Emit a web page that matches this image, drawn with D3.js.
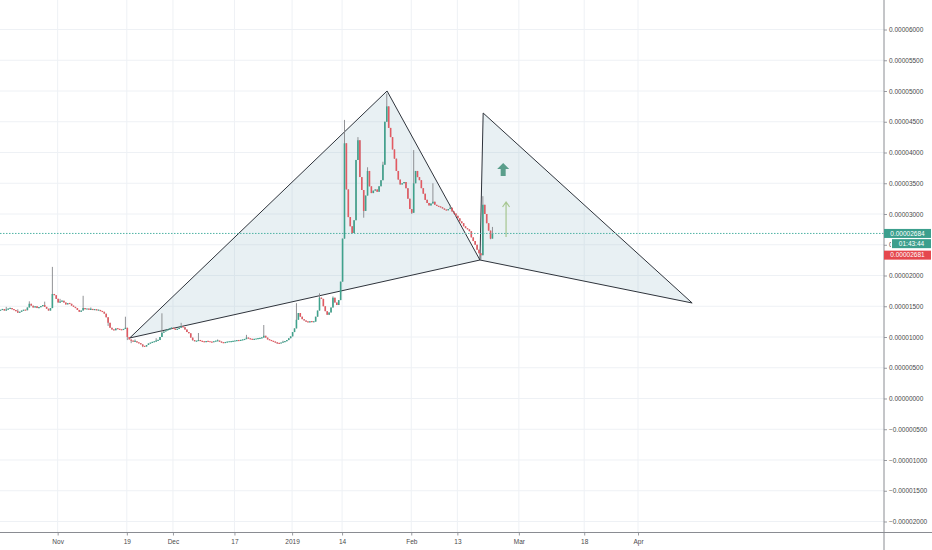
<!DOCTYPE html>
<html><head><meta charset="utf-8">
<script src="https://cdn.jsdelivr.net/npm/d3@7"></script>
<style>
body{margin:0;background:#fff;}
svg{display:block;font-family:"Liberation Sans",Arial,sans-serif;}
</style>
</head><body>
<svg id="c" width="932" height="550"></svg>
<script>
// ---- data (prices in units of 1e-8) ----
const UNIT = 1e-8;
const candleStart = Date.UTC(2018, 9, 17);   // first 12h candle
const candleHours = 12;
const firstOpen = 1430;
const closes = [
1440,1455,1430,1445,1460,1470,1450,1440,1420,1395,
1410,1430,1440,1435,1480,1540,1510,1480,1500,1470,
1485,1500,1520,1490,1460,1430,1470,1700,1680,1620,
1560,1575,1590,1560,1530,1550,1540,1510,1490,1470,
1440,1410,1430,1470,1450,1460,1445,1455,1440,1450,
1435,1440,1420,1410,1380,1320,1230,1150,1120,1110,
1140,1130,1120,1115,1130,1150,1000,960,940,925,
930,910,900,880,850,845,870,895,905,920,
925,940,950,1000,1070,1090,1110,1120,1140,1150,
1130,1120,1130,1150,1170,1160,1120,1080,1060,990,
950,930,935,950,935,925,920,930,925,920,
915,930,935,940,925,910,905,915,920,925,
925,930,940,945,940,950,955,965,990,975,
965,960,965,970,975,980,990,1020,990,960,
950,935,925,910,900,895,910,920,930,950,
980,1010,1080,1140,1280,1390,1330,1290,1270,1250,
1240,1255,1245,1250,1330,1430,1640,1620,1500,1420,
1360,1400,1480,1640,1560,1520,1600,1900,2600,4150,
3400,2950,2800,2690,2900,3880,4200,3600,3390,3050,
3300,3700,3450,3340,3380,3400,3360,3450,3550,3800,
4500,4750,4400,4250,4050,3900,3700,3560,3480,3500,
3520,3420,3250,3080,3020,3500,3700,3600,3550,3420,
3330,3230,3180,3140,3170,3200,3150,3130,3120,3110,
3090,3070,3060,3080,3100,3040,3010,2970,2930,2880,
2850,2800,2770,2750,2720,2620,2560,2500,2420,2360,
2330,3150,3000,2850,2730,2600,2684
];
// [candle index, high]
const wickHighs = [[3,1490],[9,1450],[15,1580],[23,1575],[27,2140],[31,1620],[43,1670],[47,1480],
[65,1330],[70,960],[81,980],[84,1385],[94,1230],[103,1065],[113,960],[128,1035],[137,1195],
[147,940],[154,1550],[166,1710],[173,1660],[179,4530],[186,4250],[191,3760],[199,3850],
[201,4960],[208,3560],[215,4040],[219,3480],[225,3500],[234,3150],[251,3290],[256,2790]];
// [candle index, low]
const wickLows = [[56,1180],[66,950],[68,900],[74,835],[100,940],[144,890],[171,1390],
[183,2680],[189,2940],[214,3000],[250,2255],[255,2590]];

const dateTicks = ["2018-11-01","2018-11-19","2018-12-01","2018-12-17","2019-01-01","2019-01-14",
                   "2019-02-01","2019-02-13","2019-03-01","2019-03-18","2019-04-01"];
const dateLabels = ["Nov","19","Dec","17","2019","14","Feb","13","Mar","18","Apr"];
const priceTicks = [-2000,-1500,-1000,-500,0,500,1000,1500,2000,2500,3000,3500,4000,4500,5000,5500,6000];

const patternDates  = ["2018-11-19T18:00Z","2019-01-25T17:00Z","2019-02-18T21:00Z","2019-02-19T17:00Z","2019-04-15T02:00Z"];
const patternPrices = [984, 5000, 2252, 4642, 1553];   // X A B C D

const bigArrow = {date:"2019-02-24T22:00Z", price:3716};
const thinArrow = {date:"2019-02-25T16:00Z", from:2626, to:3195};

const lastPrice = 2684, bidPrice = 2681, countdown = "01:43:44";

// ---- layout ----
const W = 932, H = 550, plotR = 884, plotB = 532.5;
const svg = d3.select("#c");
const x = d3.scaleUtc().domain([new Date(Date.UTC(2018,9,17)), new Date(Date.UTC(2019,5,4))]).range([0, plotR]);
const y = d3.scaleLinear().domain([-2179, 6480]).range([plotB, 0]);
const fmt = v => (v < 0 ? "\u2212" : "") + (Math.abs(v) * UNIT).toFixed(8);

svg.append("rect").attr("width", W).attr("height", H).attr("fill", "#fff");
svg.append("defs").append("clipPath").attr("id", "hidebadge")
  .append("rect").attr("x", -10).attr("y", -10).attr("width", 17).attr("height", 20);

// grid
const g = svg.append("g");
g.selectAll(".hg").data(priceTicks).join("line")
  .attr("x1", 0).attr("x2", plotR).attr("y1", d => y(d)).attr("y2", d => y(d))
  .attr("stroke", "#eef1f5").attr("stroke-width", 1);
g.selectAll(".vg").data(dateTicks).join("line")
  .attr("x1", d => x(new Date(d))).attr("x2", d => x(new Date(d)))
  .attr("y1", 0).attr("y2", plotB)
  .attr("stroke", "#eef1f5").attr("stroke-width", 1);

// pattern
const P = patternDates.map((d, i) => [x(new Date(d)), y(patternPrices[i])]);
const tri = [[P[0], P[1], P[2]], [P[2], P[3], P[4]]];
svg.append("g").selectAll("polygon").data(tri).join("polygon")
  .attr("points", d => d.map(p => p.join(",")).join(" "))
  .attr("fill", "rgba(150,185,200,0.22)")
  .attr("stroke", "#2e333b").attr("stroke-width", 1).attr("stroke-linejoin", "miter");

// candles
const hiMap = new Map(wickHighs), loMap = new Map(wickLows);
const candles = closes.map((c, i) => {
  const o = i ? closes[i - 1] : firstOpen;
  const h = Math.max(o, c, hiMap.get(i) ?? -Infinity);
  const l = Math.min(o, c, loMap.get(i) ?? Infinity);
  return {t: new Date(candleStart + i * candleHours * 3600e3), o, c, h, l};
});
const cg = svg.append("g");
cg.selectAll(".w").data(candles).join("line")
  .attr("x1", d => x(d.t) + 0.5).attr("x2", d => x(d.t) + 0.5)
  .attr("y1", d => y(d.h)).attr("y2", d => y(d.l))
  .attr("stroke", "#85868a").attr("stroke-width", 0.9);
cg.selectAll(".b").data(candles).join("line")
  .attr("x1", d => x(d.t) + 0.5).attr("x2", d => x(d.t) + 0.5)
  .attr("y1", d => { const a = y(d.o), b = y(d.c); return Math.abs(a - b) < 1.2 ? (a + b) / 2 - 0.6 : a; })
  .attr("y2", d => { const a = y(d.o), b = y(d.c); return Math.abs(a - b) < 1.2 ? (a + b) / 2 + 0.6 : b; })
  .attr("stroke", d => d.c >= d.o ? "#3fa28c" : "#e35a62").attr("stroke-width", 1.6);

// arrows
{
  const ax = x(new Date(bigArrow.date)), ay = y(bigArrow.price);
  svg.append("path")
    .attr("d", `M${ax},${ay-7} L${ax+6},${ay-1} L${ax+2.5},${ay-1} L${ax+2.5},${ay+6} L${ax-2.5},${ay+6} L${ax-2.5},${ay-1} L${ax-6},${ay-1} Z`)
    .attr("fill", "#5a9e8b");
  const tx = x(new Date(thinArrow.date)), y0 = y(thinArrow.from), y1 = y(thinArrow.to);
  svg.append("path")
    .attr("d", `M${tx},${y0} L${tx},${y1} M${tx-3.5},${y1+5} L${tx},${y1} L${tx+3.5},${y1+5}`)
    .attr("fill", "none").attr("stroke", "#a6c690").attr("stroke-width", 1.2);
}

// last-price dotted line
svg.append("line").attr("x1", 0).attr("x2", plotR).attr("y1", y(lastPrice)).attr("y2", y(lastPrice))
  .attr("stroke", "#4fb3a4").attr("stroke-width", 1).attr("stroke-dasharray", "1.5,1.5");

// axes
const xAxis = d3.axisBottom(x).tickValues(dateTicks.map(d => new Date(d)))
  .tickFormat((d, i) => dateLabels[i]).tickSize(3).tickPadding(4);
const xg = svg.append("g").attr("transform", `translate(0,${plotB})`).call(xAxis);
xg.select(".domain").remove();
xg.selectAll("line").attr("stroke", "#9a9ca2");
xg.selectAll("text").attr("fill", "#4a4a4a").attr("font-size", 6.5);
svg.append("line").attr("x1", 0).attr("x2", W).attr("y1", plotB).attr("y2", plotB)
  .attr("stroke", "#8a8c92").attr("stroke-width", 1);

const yAxis = d3.axisRight(y).tickValues(priceTicks).tickFormat(fmt).tickSize(3).tickPadding(2);
const yg = svg.append("g").attr("transform", `translate(${plotR},0)`).call(yAxis);
yg.select(".domain").remove();
yg.selectAll("line").attr("stroke", "#9a9ca2");
yg.selectAll("text").attr("fill", "#4a4a4a").attr("font-size", 6.5);
// the label hidden under the countdown badge only shows its first character
yg.selectAll(".tick").filter(d => d === 2500).select("text").attr("clip-path", "url(#hidebadge)");
svg.append("line").attr("x1", plotR).attr("x2", plotR).attr("y1", 0).attr("y2", H)
  .attr("stroke", "#8a8c92").attr("stroke-width", 1);

// price badges
function badge(cy, x0, text, fill) {
  svg.append("rect").attr("x", x0).attr("y", cy - 4.5).attr("width", 931 - x0).attr("height", 9).attr("fill", fill);
  svg.append("text").attr("x", (x0 + 931) / 2).attr("y", cy).attr("dy", "0.35em")
    .attr("text-anchor", "middle").attr("fill", "#fff").attr("font-size", 6.5).text(text);
}
badge(y(lastPrice), plotR, fmt(lastPrice), "#3c9f8d");
badge(y(lastPrice) + 10.2, 892, countdown, "#3c9f8d");
badge(y(lastPrice) + 21.7, plotR, fmt(bidPrice), "#e5484e");
</script>
</body></html>
